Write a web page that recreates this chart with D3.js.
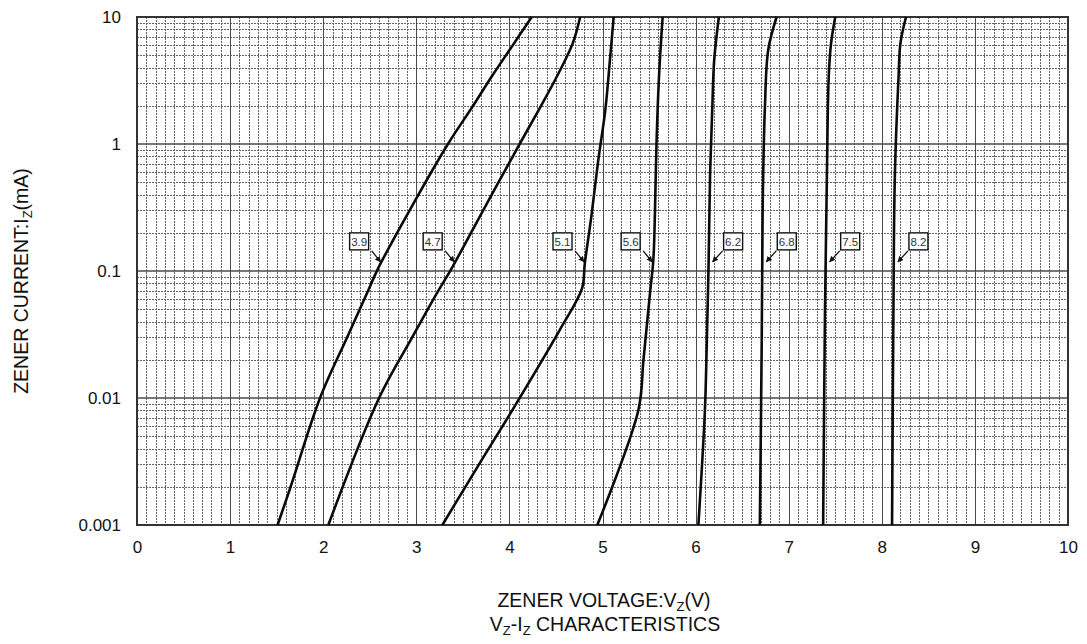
<!DOCTYPE html>
<html>
<head>
<meta charset="utf-8">
<script src="https://cdn.jsdelivr.net/npm/d3@7"></script>
<style>
  body { margin: 0; background: #fff; }
  svg { display: block; font-family: "Liberation Sans", Arial, sans-serif; }
</style>
</head>
<body>
<div id="chart"></div>
<script>
// Zener Vz-Iz characteristics
var xTicks = [0, 1, 2, 3, 4, 5, 6, 7, 8, 9, 10];
var yTicks = [0.001, 0.01, 0.1, 1, 10];

var names = ["3.9", "4.7", "5.1", "5.6", "6.2", "6.8", "7.5", "8.2"];

// current (mA) and voltage (V) per curve
var i39 = [0.001, 0.002, 0.01, 0.0304, 0.0667, 0.105, 0.302, 1, 2.0, 3.4, 5.9, 10];
var v39 = [1.51, 1.65, 1.966, 2.26, 2.47, 2.59, 2.93, 3.34, 3.61, 3.81, 4.03, 4.24];

var i47 = [0.001, 0.01, 0.0304, 0.0667, 0.105, 0.302, 1, 2.0, 3.4, 6.2, 10];
var v47 = [2.055, 2.60, 2.96, 3.22, 3.38, 3.72, 4.11, 4.34, 4.51, 4.68, 4.76];

var i51 = [0.001, 0.00306, 0.008, 0.0343, 0.073, 0.115, 0.268, 0.75, 1.85, 4.6, 10];
var v51 = [3.28, 3.68, 4.03, 4.54, 4.78, 4.81, 4.88, 4.955, 5.03, 5.08, 5.12];

var i56 = [0.001, 0.008, 0.02, 0.0667, 0.122, 0.3, 1, 3.4, 10];
var v56 = [4.944, 5.385, 5.44, 5.51, 5.546, 5.564, 5.58, 5.607, 5.646];

var i62 = [0.001, 0.008, 0.027, 0.12, 0.55, 2.0, 4.6, 10];
var v62 = [6.03, 6.10, 6.12, 6.14, 6.155, 6.18, 6.20, 6.25];

var i68 = [0.001, 0.027, 0.3, 2.0, 5.5, 10];
var v68 = [6.69, 6.71, 6.72, 6.745, 6.78, 6.87];

var i75 = [0.001, 0.05, 0.55, 3.4, 6.2, 10];
var v75 = [7.37, 7.39, 7.41, 7.43, 7.455, 7.50];

var i82 = [0.001, 0.05, 0.55, 3.4, 6.2, 10];
var v82 = [8.11, 8.125, 8.14, 8.18, 8.20, 8.26];

var currents = [i39, i47, i51, i56, i62, i68, i75, i82];
var voltages = [v39, v47, v51, v56, v62, v68, v75, v82];

// labels: which side the box sits on, and the current the arrow points at
var labelSide = ["left", "left", "left", "left", "right", "right", "right", "right"];
var labelCurrent = 0.118;

////////////////////////////////////////////////////////////
var width = 1087, height = 644;
var margin = {left: 137, top: 17, right: 19, bottom: 119};

var svg = d3.select("#chart").append("svg")
    .attr("width", width)
    .attr("height", height);

var defs = svg.append("defs");
defs.append("marker")
    .attr("id", "arrowHead")
    .attr("viewBox", "0 0 10 10")
    .attr("refX", 9).attr("refY", 5)
    .attr("markerWidth", 6).attr("markerHeight", 6)
    .attr("markerUnits", "userSpaceOnUse")
    .attr("orient", "auto")
  .append("path")
    .attr("d", "M0,0 L10,5 L0,10 z")
    .attr("fill", "#111");

var x = d3.scaleLinear().domain([0, 10]).range([margin.left, width - margin.right]);
var y = d3.scaleLog().domain([0.001, 10]).range([height - margin.bottom, margin.top]);

// snap 1px lines onto the pixel grid
function px(v) { return Math.round(v) + 0.5; }

var grid = svg.append("g").classed("grid", true);

// minor vertical lines every 0.1 V
var xMinor = d3.range(1, 100).filter(function(d) { return d % 10 != 0; }).map(function(d) { return d / 10; });
grid.selectAll(".xminor").data(xMinor).enter().append("line")
    .attr("class", "xminor")
    .attr("x1", function(d) { return px(x(d)); }).attr("x2", function(d) { return px(x(d)); })
    .attr("y1", y(10)).attr("y2", y(0.001))
    .attr("stroke", "#626262").attr("stroke-width", 1)
    .attr("stroke-dasharray", "2,1");

// minor horizontal lines at 2..9 of every decade
var yMinor = [];
[0.001, 0.01, 0.1, 1].forEach(function(dec) {
    for (var k = 2; k <= 9; k++) yMinor.push(dec * k);
});
grid.selectAll(".yminor").data(yMinor).enter().append("line")
    .attr("class", "yminor")
    .attr("x1", x(0)).attr("x2", x(10))
    .attr("y1", function(d) { return px(y(d)); }).attr("y2", function(d) { return px(y(d)); })
    .attr("stroke", "#626262").attr("stroke-width", 1)
    .attr("stroke-dasharray", "2,1");

// major lines
grid.selectAll(".xmajor").data(xTicks).enter().append("line")
    .attr("class", "xmajor")
    .attr("x1", function(d) { return px(x(d)); }).attr("x2", function(d) { return px(x(d)); })
    .attr("y1", y(10)).attr("y2", y(0.001))
    .attr("stroke", "#4a4a4a").attr("stroke-width", 1);
grid.selectAll(".ymajor").data(yTicks).enter().append("line")
    .attr("class", "ymajor")
    .attr("x1", x(0)).attr("x2", x(10))
    .attr("y1", function(d) { return y(d); }).attr("y2", function(d) { return y(d); })
    .attr("stroke", "#4a4a4a").attr("stroke-width", 1.5);

// frame
svg.append("rect")
    .attr("x", x(0)).attr("y", y(10))
    .attr("width", x(10) - x(0)).attr("height", y(0.001) - y(10))
    .attr("fill", "none").attr("stroke", "#333").attr("stroke-width", 2);

// axes (text only, lines come from the grid)
var xAxis = svg.append("g")
    .attr("transform", "translate(0," + (y(0.001) + 8) + ")")
    .call(d3.axisBottom(x).tickValues(xTicks).tickSize(0).tickFormat(d3.format("d")));
var yAxis = svg.append("g")
    .attr("transform", "translate(" + (x(0) - 16) + ",0)")
    .call(d3.axisLeft(y).tickValues(yTicks).tickSize(0).tickFormat(function(d) { return String(d); }));
[xAxis, yAxis].forEach(function(a) {
    a.select(".domain").remove();
    a.selectAll("text")
     .attr("font-family", "Liberation Sans, Arial, sans-serif")
     .attr("font-size", 17).attr("fill", "#111");
});
xAxis.selectAll("text").attr("dy", "1em");
yAxis.selectAll("text").attr("dy", "0.35em").attr("x", 0);

// curves
var line = d3.line()
    .x(function(d) { return x(d[0]); })
    .y(function(d) { return y(d[1]); })
    .curve(d3.curveCatmullRom.alpha(0.5));

var series = names.map(function(n, k) {
    return {
        name: n,
        side: labelSide[k],
        pts: voltages[k].map(function(v, j) { return [v, currents[k][j]]; })
    };
});

svg.append("g").selectAll("path").data(series).enter().append("path")
    .attr("d", function(d) { return line(d.pts); })
    .attr("fill", "none")
    .attr("stroke", "#0a0a0a")
    .attr("stroke-width", 2.6)
    .attr("stroke-linejoin", "round");

// voltage on a curve at a given current (log interpolation)
function voltageAt(pts, cur) {
    for (var j = 1; j < pts.length; j++) {
        if (pts[j][1] >= cur) {
            var a = Math.log10(pts[j - 1][1]), b = Math.log10(pts[j][1]);
            var t = (Math.log10(cur) - a) / (b - a);
            return pts[j - 1][0] + t * (pts[j][0] - pts[j - 1][0]);
        }
    }
    return pts[pts.length - 1][0];
}

// labels with arrows
var labels = svg.append("g").classed("labels", true);
series.forEach(function(s) {
    var tipX = x(voltageAt(s.pts, labelCurrent));
    var tipY = y(labelCurrent);
    var bw = 19, bh = 17;
    var bx, by = tipY - 29, sx, sy;
    if (s.side == "left") {
        tipX -= 1;
        bx = tipX - 31;
        sx = bx + bw + 3; sy = by + bh + 1;
    } else {
        tipX += 4;
        bx = tipX + 11;
        sx = bx - 1; sy = by + bh + 1;
    }
    labels.append("line")
        .attr("x1", sx).attr("y1", sy)
        .attr("x2", tipX).attr("y2", tipY)
        .attr("stroke", "#111").attr("stroke-width", 1.3)
        .attr("marker-end", "url(#arrowHead)");
    labels.append("rect")
        .attr("x", bx).attr("y", by)
        .attr("width", bw).attr("height", bh)
        .attr("fill", "#fff").attr("stroke", "#111").attr("stroke-width", 1.4);
    labels.append("text")
        .attr("x", bx + bw / 2).attr("y", by + bh / 2)
        .attr("dy", "0.36em")
        .attr("text-anchor", "middle")
        .attr("font-size", 11.5).attr("fill", "#333")
        .text(s.name);
});

// axis titles
var xTitle = svg.append("text")
    .attr("x", 604).attr("y", 607)
    .attr("text-anchor", "middle")
    .attr("font-size", 19.5).attr("fill", "#111");
xTitle.append("tspan").text("ZENER VOLTAGE:V");
xTitle.append("tspan").attr("font-size", 13).attr("dy", 4).text("Z");
xTitle.append("tspan").attr("dy", -4).text("(V)");

var xTitle2 = svg.append("text")
    .attr("x", 605).attr("y", 631)
    .attr("text-anchor", "middle")
    .attr("font-size", 19.5).attr("fill", "#111");
xTitle2.append("tspan").text("V");
xTitle2.append("tspan").attr("font-size", 13).attr("dy", 4).text("Z");
xTitle2.append("tspan").attr("dy", -4).text("-I");
xTitle2.append("tspan").attr("font-size", 13).attr("dy", 4).text("Z");
xTitle2.append("tspan").attr("dy", -4).text(" CHARACTERISTICS");

var yTitle = svg.append("text")
    .attr("transform", "translate(28,281) rotate(-90)")
    .attr("text-anchor", "middle")
    .attr("font-size", 19.5).attr("fill", "#111");
yTitle.append("tspan").text("ZENER CURRENT:I");
yTitle.append("tspan").attr("font-size", 13).attr("dy", 4).text("Z");
yTitle.append("tspan").attr("dy", -4).text("(mA)");
</script>
</body>
</html>
